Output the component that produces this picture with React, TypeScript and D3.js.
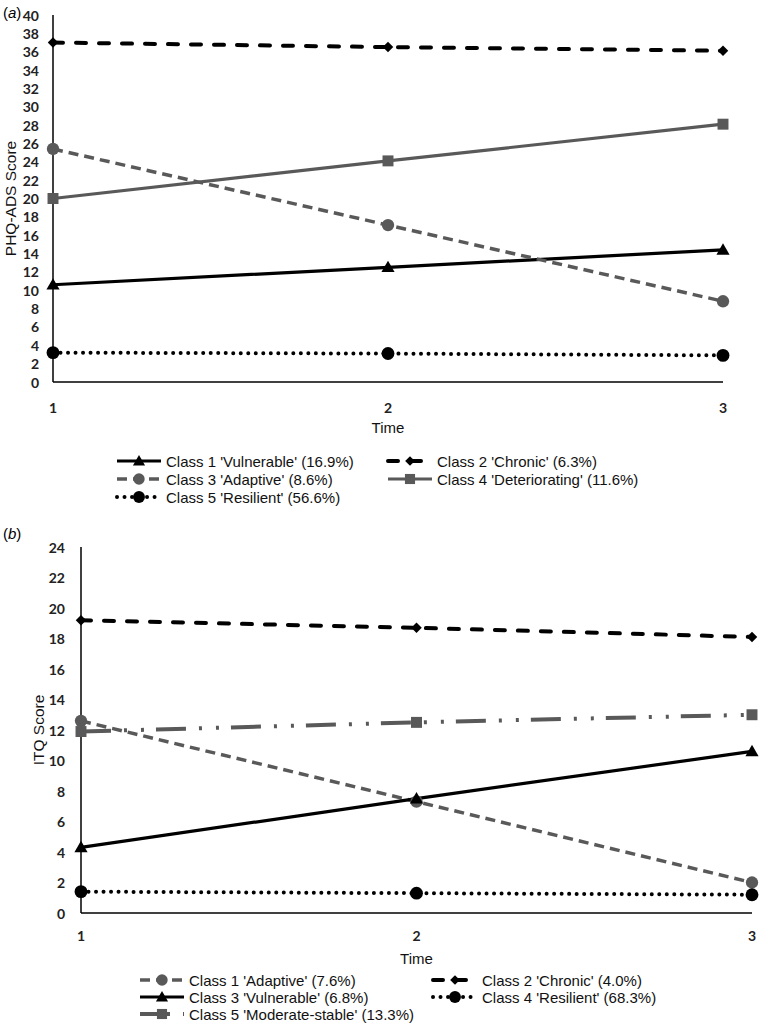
import React from 'react';
import * as d3 from 'd3';

// ---------- DATA ----------
const times = [1, 2, 3];

// Panel (a): PHQ-ADS
const aLabels = [
  "Class 1 'Vulnerable' (16.9%)",
  "Class 2 'Chronic' (6.3%)",
  "Class 3 'Adaptive' (8.6%)",
  "Class 4 'Deteriorating' (11.6%)",
  "Class 5 'Resilient' (56.6%)",
];
const aVulnerable = [10.6, 12.5, 14.4];
const aChronic = [37.0, 36.5, 36.1];
const aAdaptive = [25.4, 17.1, 8.8];
const aDeteriorating = [20.0, 24.1, 28.1];
const aResilient = [3.2, 3.1, 2.9];
const aTicks = [0, 2, 4, 6, 8, 10, 12, 14, 16, 18, 20, 22, 24, 26, 28, 30, 32, 34, 36, 38, 40];

// Panel (b): ITQ
const bLabels = [
  "Class 1 'Adaptive' (7.6%)",
  "Class 2 'Chronic' (4.0%)",
  "Class 3 'Vulnerable' (6.8%)",
  "Class 4 'Resilient' (68.3%)",
  "Class 5 'Moderate-stable' (13.3%)",
];
const bAdaptive = [12.6, 7.3, 2.0];
const bChronic = [19.2, 18.7, 18.1];
const bVulnerable = [4.3, 7.5, 10.6];
const bResilient = [1.4, 1.3, 1.2];
const bModerate = [11.9, 12.5, 13.0];
const bTicks = [0, 2, 4, 6, 8, 10, 12, 14, 16, 18, 20, 22, 24];

// ---------- STYLES ----------
const GRAY = '#595959';
type Style = { stroke: string; width: number; dash?: string; cap: string; marker: string; msize: number };
const STY: Record<string, Style> = {
  vulnerable: { stroke: '#000', width: 3.2, cap: 'butt', marker: 'triangle', msize: 75 },
  chronic: { stroke: '#000', width: 4, dash: '10 13', cap: 'round', marker: 'diamond', msize: 55 },
  adaptive: { stroke: GRAY, width: 3.5, dash: '10 6', cap: 'butt', marker: 'circle', msize: 120 },
  deteriorating: { stroke: GRAY, width: 3.2, cap: 'butt', marker: 'square', msize: 120 },
  resilient: { stroke: '#000', width: 4, dash: '0.01 7.5', cap: 'round', marker: 'circle', msize: 130 },
  moderate: { stroke: GRAY, width: 4, dash: '30 13 3 14 3 12', cap: 'butt', marker: 'square', msize: 120 },
};

function symbolPath(m: string, size: number) {
  const t = m === 'triangle' ? d3.symbolTriangle : m === 'circle' ? d3.symbolCircle : d3.symbolSquare;
  return d3.symbol().type(t).size(size)() as string;
}

function Marker({ x, y, s }: { x: number; y: number; s: Style }) {
  const rot = s.marker === 'diamond' ? 45 : 0;
  const dy = s.marker === 'triangle' ? 1 : 0;
  return (
    <path
      d={symbolPath(s.marker, s.msize)}
      transform={`translate(${x},${y + dy}) rotate(${rot})`}
      fill={s.stroke}
    />
  );
}

type Series = { label: string; values: number[]; style: Style };

type PanelProps = {
  tag: string;
  yTitle: string;
  series: Series[];
  ticks: number[];
  xRange: [number, number];
  yRange: [number, number];
  yTitleX: number;
  tagY: number;
  tickRight: number;
  xTickY: number;
  timeY: number;
  legendY: number[];
  legendCols: number[];
};

function Panel(p: PanelProps) {
  const x = d3.scalePoint<number>().domain(times).range(p.xRange);
  const y = d3.scaleLinear().domain([0, p.ticks[p.ticks.length - 1]]).range(p.yRange);
  const line = d3
    .line<number>()
    .x((_, i) => x(times[i]) as number)
    .y((v) => y(v));
  const legendLen = 44;
  const gap = 5;
  return (
    <g>
      <text x={3} y={p.tagY} fontFamily="Liberation Sans, Arial, sans-serif" fontSize={15} dominantBaseline="central">
        (<tspan fontStyle="italic">{p.tag}</tspan>)
      </text>
      {/* y title */}
      <text
        transform={`translate(${p.yTitleX},${(p.yRange[0] + p.yRange[1]) / 2}) rotate(-90)`}
        textAnchor="middle"
        dominantBaseline="central"
        fontFamily="Liberation Sans, Arial, sans-serif"
        fontSize={15.5}
        fill="#111"
      >
        {p.yTitle}
      </text>
      {/* y tick labels */}
      {p.ticks.map((t) => (
        <text
          key={t}
          x={p.tickRight}
          y={y(t)}
          textAnchor="end"
          dominantBaseline="central"
          fontFamily="Lato, 'Open Sans', sans-serif"
          fontWeight={700}
          fontSize={14}
          fill="#222"
        >
          {t}
        </text>
      ))}
      {/* x tick labels */}
      {times.map((t) => (
        <text
          key={t}
          x={x(t)}
          y={p.xTickY}
          textAnchor="middle"
          dominantBaseline="central"
          fontFamily="Lato, 'Open Sans', sans-serif"
          fontWeight={700}
          fontSize={14}
          fill="#222"
        >
          {t}
        </text>
      ))}
      <text
        x={(p.xRange[0] + p.xRange[1]) / 2}
        y={p.timeY}
        textAnchor="middle"
        dominantBaseline="central"
        fontFamily="Liberation Sans, Arial, sans-serif"
        fontSize={15}
        fill="#111"
      >
        Time
      </text>
      {/* series lines */}
      {p.series.map((s, i) => (
        <path
          key={'l' + i}
          d={line(s.values) as string}
          fill="none"
          stroke={s.style.stroke}
          strokeWidth={s.style.width}
          strokeDasharray={s.style.dash}
          strokeLinecap={s.style.cap as any}
        />
      ))}
      {/* axes */}
      <line x1={p.xRange[0]} x2={p.xRange[0]} y1={p.yRange[1]} y2={p.yRange[0]} stroke="#000" strokeWidth={1.5} />
      <line x1={p.xRange[0]} x2={p.xRange[1]} y1={p.yRange[0]} y2={p.yRange[0]} stroke="#000" strokeWidth={1.5} />
      {/* markers */}
      {p.series.map((s, i) =>
        s.values.map((v, j) => <Marker key={`m${i}-${j}`} x={x(times[j]) as number} y={y(v)} s={s.style} />)
      )}
      {/* legend */}
      {p.series.map((s, i) => {
        const col = i % 2;
        const row = Math.floor(i / 2);
        const lx = p.legendCols[col];
        const ly = p.legendY[row];
        return (
          <g key={'lg' + i}>
            <line
              x1={lx}
              x2={lx + legendLen}
              y1={ly}
              y2={ly}
              stroke={s.style.stroke}
              strokeWidth={s.style.width}
              strokeDasharray={s.style.dash}
              strokeLinecap={s.style.cap as any}
            />
            <Marker x={lx + legendLen / 2} y={ly} s={{ ...s.style, msize: s.style.msize * 0.85 }} />
            <text
              x={lx + legendLen + gap}
              y={ly}
              dominantBaseline="central"
              fontFamily="Liberation Sans, Arial, sans-serif"
              fontSize={15}
              fill="#111"
            >
              {s.label}
            </text>
          </g>
        );
      })}
    </g>
  );
}

export default function App() {
  const aSeries: Series[] = [
    { label: aLabels[0], values: aVulnerable, style: STY.vulnerable },
    { label: aLabels[1], values: aChronic, style: STY.chronic },
    { label: aLabels[2], values: aAdaptive, style: STY.adaptive },
    { label: aLabels[3], values: aDeteriorating, style: STY.deteriorating },
    { label: aLabels[4], values: aResilient, style: STY.resilient },
  ];
  const bSeries: Series[] = [
    { label: bLabels[0], values: bAdaptive, style: STY.adaptive },
    { label: bLabels[1], values: bChronic, style: STY.chronic },
    { label: bLabels[2], values: bVulnerable, style: STY.vulnerable },
    { label: bLabels[3], values: bResilient, style: STY.resilient },
    { label: bLabels[4], values: bModerate, style: STY.moderate },
  ];
  return (
    <svg
      width={759}
      height={1031}
      viewBox="0 0 759 1031"
      style={{ position: 'absolute', left: 0, top: 0, background: '#fff' }}
    >
      <rect width={759} height={1031} fill="#fff" />
      <Panel
        tag="a"
        yTitle="PHQ-ADS Score"
        series={aSeries}
        ticks={aTicks}
        xRange={[53, 723]}
        yRange={[382, 15]}
        yTitleX={10}
        tagY={12}
        tickRight={39}
        xTickY={407}
        timeY={427}
        legendY={[461, 479, 497]}
        legendCols={[117, 388]}
      />
      <Panel
        tag="b"
        yTitle="ITQ Score"
        series={bSeries}
        ticks={bTicks}
        xRange={[81, 752]}
        yRange={[913, 547]}
        yTitleX={38}
        tagY={533}
        tickRight={65}
        xTickY={935}
        timeY={958}
        legendY={[980, 997, 1014]}
        legendCols={[140, 433]}
      />
    </svg>
  );
}
